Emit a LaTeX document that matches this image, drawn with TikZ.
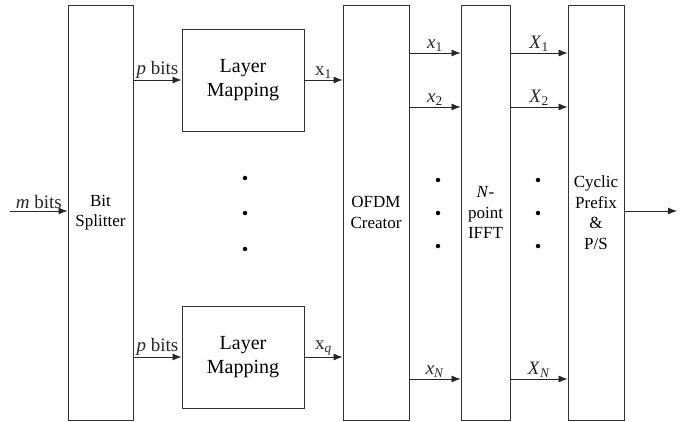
\documentclass[tikz,border=0pt]{standalone}
\usepackage{fontspec}
\setmainfont{Liberation Serif}
\usetikzlibrary{arrows.meta, positioning}

\begin{document}
\begin{tikzpicture}[x=1pt, y=-1pt,
  blk/.style={draw=black!80, line width=0.9pt, align=center, inner sep=0pt, font=\fontsize{17}{20.5}\selectfont},
  tall/.style={blk, minimum height=415pt},
  map/.style={blk, minimum width=122pt, minimum height=102pt, font=\fontsize{20}{24}\selectfont},
  sig/.style={-{Latex[length=9pt,width=7pt]}, line width=0.8pt, black!85},
  lbl/.style={above, inner sep=1.5pt, font=\fontsize{19}{22}\selectfont},
  vdot/.style={circle, fill=black, inner sep=0pt, minimum size=4.5pt},
]
  \useasboundingbox (0,0) rectangle (693,422);

  % main blocks
  \node[tall, minimum width=65pt] (split) at (100.5,212.5) {Bit\\Splitter};
  \node[map] (lm1) at (243,80) {Layer\\Mapping};
  \node[map] (lmq) at (243,357) {Layer\\Mapping};
  \node[tall, minimum width=66pt] (ofdm) at (376,212.5) {OFDM\\Creator};
  \node[tall, minimum width=49pt] (ifft) at (485.5,212.5) {\textit{N}-\\point\\IFFT};
  \node[tall, minimum width=56pt] (cp) at (596,212.5) {Cyclic\\Prefix\\\&\\P/S};

  % input and output
  \coordinate (in) at (10,211);
  \coordinate (out) at (677,211);
  \draw[sig] (in) -- node[lbl] {\textit{m} bits} (in -| split.west);
  \draw[sig] (cp.east |- out) -- (out);

  % splitter to layer mapping to OFDM
  \draw[sig] (lm1.west -| split.east) -- node[lbl] {\textit{p} bits} (lm1.west);
  \draw[sig] (lmq.west -| split.east) -- node[lbl] {\textit{p} bits} (lmq.west);
  \draw[sig] (lm1.east) -- node[lbl] {x\textsubscript{1}} (lm1.east -| ofdm.west);
  \draw[sig] (lmq.east) -- node[lbl] {x\textsubscript{\textit{q}}} (lmq.east -| ofdm.west);

  % OFDM to IFFT to cyclic prefix
  \foreach \y/\k/\s in {53/1/1, 107/2/2, 379/N/\textit{N}} {
    \coordinate (r\k) at (0,\y);
    \draw[sig] (ofdm.east |- r\k) -- node[lbl] {\textit{x}\textsubscript{\s}} (ifft.west |- r\k);
    \draw[sig] (ifft.east |- r\k) -- node[lbl] {\textit{X}\textsubscript{\s}} (cp.west |- r\k);
  }

  % ellipsis dots
  \foreach \y in {178, 213, 249}
    \node[vdot] at (245,\y) {};
  \foreach \y in {180, 213, 246} {
    \node[vdot] at (438,\y) {};
    \node[vdot] at (538,\y) {};
  }
\end{tikzpicture}
\end{document}
